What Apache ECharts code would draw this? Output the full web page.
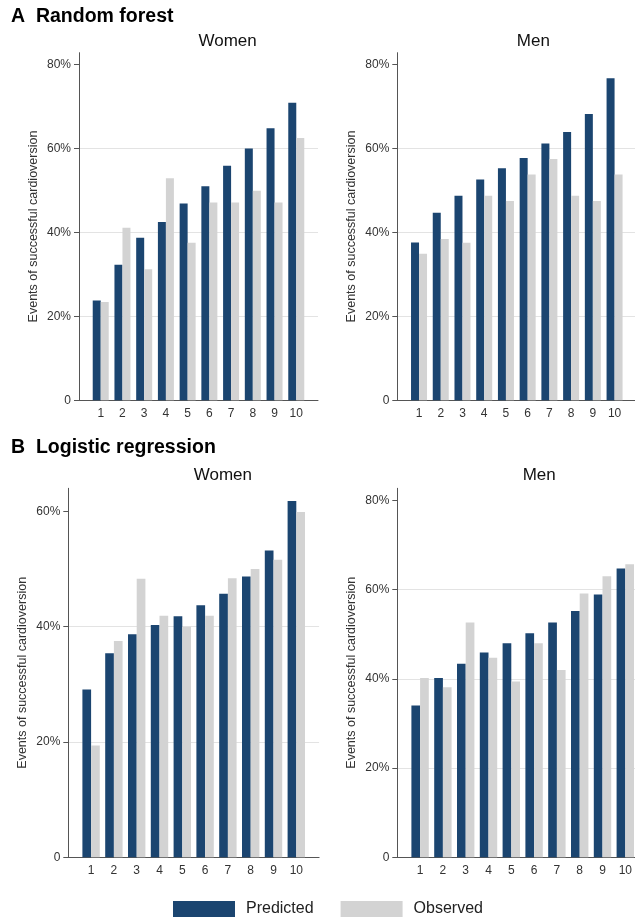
<!DOCTYPE html>
<html>
<head>
<meta charset="utf-8">
<script src="https://cdn.jsdelivr.net/npm/echarts@6/dist/echarts.min.js"></script>
<style>
html,body{margin:0;padding:0;background:#fff;}
#chart{width:635px;height:917px;}
</style>
</head>
<body>
<div id="chart"></div>
<script>
const categories = [1, 2, 3, 4, 5, 6, 7, 8, 9, 10];
const seriesNames = ['Predicted', 'Observed'];
const panelTitles = ['A  Random forest', 'B  Logistic regression'];
const sexTitles = ['Women', 'Men'];
const yAxisName = 'Events of successful cardioversion';

const rfWomenPredicted = [23.8, 32.3, 38.7, 42.5, 46.9, 51.0, 55.9, 60.0, 64.8, 70.9];
const rfWomenObserved  = [23.4, 41.1, 31.2, 52.9, 37.5, 47.1, 47.1, 49.9, 47.1, 62.5];
const rfMenPredicted   = [37.6, 44.7, 48.7, 52.6, 55.3, 57.7, 61.2, 63.9, 68.2, 76.7];
const rfMenObserved    = [34.9, 38.4, 37.5, 48.7, 47.5, 53.8, 57.5, 48.7, 47.5, 53.8];
const lrWomenPredicted = [29.1, 35.4, 38.7, 40.3, 41.8, 43.7, 45.7, 48.7, 53.2, 61.8];
const lrWomenObserved  = [19.4, 37.5, 48.3, 41.9, 40.0, 41.9, 48.4, 50.0, 51.6, 59.9];
const lrMenPredicted   = [34.0, 40.2, 43.4, 45.9, 48.0, 50.2, 52.6, 55.2, 58.9, 64.7];
const lrMenObserved    = [40.2, 38.1, 52.6, 44.7, 39.4, 48.0, 42.0, 59.1, 63.0, 65.7];
const yTicksRF_W = [0, 20, 40, 60, 80];
const yTicksRF_M = [0, 20, 40, 60, 80];
const yTicksLR_W = [0, 20, 40, 60];
const yTicksLR_M = [0, 20, 40, 60, 80];

const NAVY = '#1b4570';
const GREY = '#d3d3d3';
const FONT = '"Liberation Sans", Arial, sans-serif';

const panels = [
  {left: 79,    top: 52.7,  width: 239,   height: 347.6, ymax: 82.8, ticks: yTicksRF_W, pred: rfWomenPredicted, obs: rfWomenObserved, bw: 8},
  {left: 397.3, top: 52.7,  width: 239,   height: 347.6, ymax: 82.8, ticks: yTicksRF_M, pred: rfMenPredicted,   obs: rfMenObserved,   bw: 8},
  {left: 68.3,  top: 488.3, width: 250.8, height: 369,   ymax: 64.0, ticks: yTicksLR_W, pred: lrWomenPredicted, obs: lrWomenObserved, bw: 8.7},
  {left: 397.3, top: 488.3, width: 250.8, height: 369,   ymax: 82.7, ticks: yTicksLR_M, pred: lrMenPredicted,   obs: lrMenObserved,   bw: 8.7}
];

const grid = [], xAxis = [], yAxis = [], series = [], graphic = [];
panels.forEach((p, i) => {
  grid.push({left: p.left, top: p.top, width: p.width, height: p.height, containLabel: false, outerBoundsMode: 'none'});
  xAxis.push({
    type: 'value', gridIndex: i, min: 0, max: 11, interval: 1,
    axisLine: {show: true, lineStyle: {color: '#555', width: 1}},
    axisTick: {show: false},
    splitLine: {show: false},
    axisLabel: {
      color: '#333', fontSize: 12, fontFamily: FONT, margin: 7,
      formatter: v => (categories.indexOf(v) >= 0 ? String(v) : '')
    }
  });
  yAxis.push({
    type: 'value', gridIndex: i, min: 0, max: p.ymax, interval: 20,
    name: yAxisName, nameLocation: 'middle', nameGap: 39, nameRotate: 90,
    nameTextStyle: {color: '#333', fontSize: 12.5, fontFamily: FONT},
    axisLine: {show: true, lineStyle: {color: '#555', width: 1}},
    axisTick: {show: true, length: 5, lineStyle: {color: '#555'}, customValues: p.ticks},
    splitLine: {show: true, showMaxLine: false, showMinLine: false, lineStyle: {color: '#e3e3e3', width: 1}},
    axisLabel: {
      color: '#333', fontSize: 12, fontFamily: FONT, margin: 8,
      customValues: p.ticks,
      formatter: v => (v === 0 ? '0' : (p.ticks.indexOf(v) >= 0 ? v + '%' : ''))
    }
  });
  series.push({
    name: seriesNames[0], type: 'bar', xAxisIndex: i, yAxisIndex: i,
    barWidth: p.bw, barGap: '0%',
    itemStyle: {color: NAVY},
    data: categories.map((c, k) => [c, p.pred[k]])
  });
  series.push({
    name: seriesNames[1], type: 'bar', xAxisIndex: i, yAxisIndex: i,
    barWidth: p.bw, barGap: '0%',
    itemStyle: {color: GREY},
    data: categories.map((c, k) => [c, p.obs[k]])
  });
  graphic.push({
    type: 'text', left: p.left + p.width / 2, top: (i < 2 ? 33 : 467),
    style: {text: sexTitles[i % 2], fill: '#111', font: '17px ' + FONT, textAlign: 'center'}
  });
});
graphic.push({type: 'text', left: 11, top: 7, style: {text: panelTitles[0], fill: '#000', font: 'bold 19.5px ' + FONT}});
graphic.push({type: 'text', left: 11, top: 438, style: {text: panelTitles[1], fill: '#000', font: 'bold 19.5px ' + FONT}});

const chart = echarts.init(document.getElementById('chart'), null, {renderer: 'canvas'});
chart.setOption({
  animation: false,
  backgroundColor: '#fff',
  grid, xAxis, yAxis, series, graphic,
  legend: {
    data: seriesNames, left: 173, top: 901, orient: 'horizontal',
    itemWidth: 62, itemHeight: 16, itemGap: 27,
    icon: 'rect',
    textStyle: {color: '#222', fontSize: 16, fontFamily: FONT, padding: [0, 0, 0, 6]},
    padding: 0
  }
});
</script>
</body>
</html>
